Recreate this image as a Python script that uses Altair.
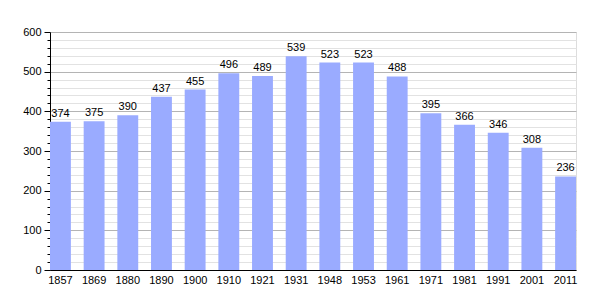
import altair as alt
import pandas as pd

years = ["1857", "1869", "1880", "1890", "1900", "1910", "1921", "1931",
         "1948", "1953", "1961", "1971", "1981", "1991", "2001", "2011"]
population = [374, 375, 390, 437, 455, 496, 489, 539,
              523, 523, 488, 395, 366, 346, 308, 236]
y_ticks = list(range(0, 601, 20))

df = pd.DataFrame({"year": years, "pop": population})

FONT = "Liberation Sans"

base = alt.Chart(df).encode(
    x=alt.X("year:N", sort=None, title=None,
            scale=alt.Scale(paddingInner=0.38, paddingOuter=0),
            axis=alt.Axis(labelAngle=0, ticks=False, domainColor="black",
                          labelFont=FONT, labelFontSize=11, labelColor="black",
                          labelPadding=4, grid=False, zindex=1)),
    y=alt.Y("pop:Q", title=None,
            scale=alt.Scale(domain=[0, 600], nice=False),
            axis=alt.Axis(values=y_ticks,
                          labelExpr="datum.value % 100 === 0 ? datum.label : ''",
                          labelFont=FONT, labelFontSize=11, labelColor="black",
                          labelPadding=3,
                          domainColor="black",
                          tickColor="black",
                          tickSize={"condition": {"test": "datum.value % 100 === 0", "value": 6}, "value": 3},
                          grid=True,
                          gridColor={"condition": {"test": "datum.value % 100 === 0", "value": "#b4b4b4"}, "value": "#e2e2e2"},
                          gridWidth=1, zindex=0)),
)

bars = base.mark_bar(color="#9aabff", opacity=1)
labels = base.mark_text(baseline="bottom", dy=-3, font=FONT, fontSize=11,
                        color="black").encode(text="pop:Q")

chart = (bars + labels).properties(
    width=526, height=238,
    padding={"left": 50, "top": 32, "right": 29, "bottom": 30},
    autosize=alt.AutoSizeParams(type="none"),
).configure_view(stroke=None).configure(background="white")

chart.save("out.html", embed_options={"renderer": "svg", "actions": False})
